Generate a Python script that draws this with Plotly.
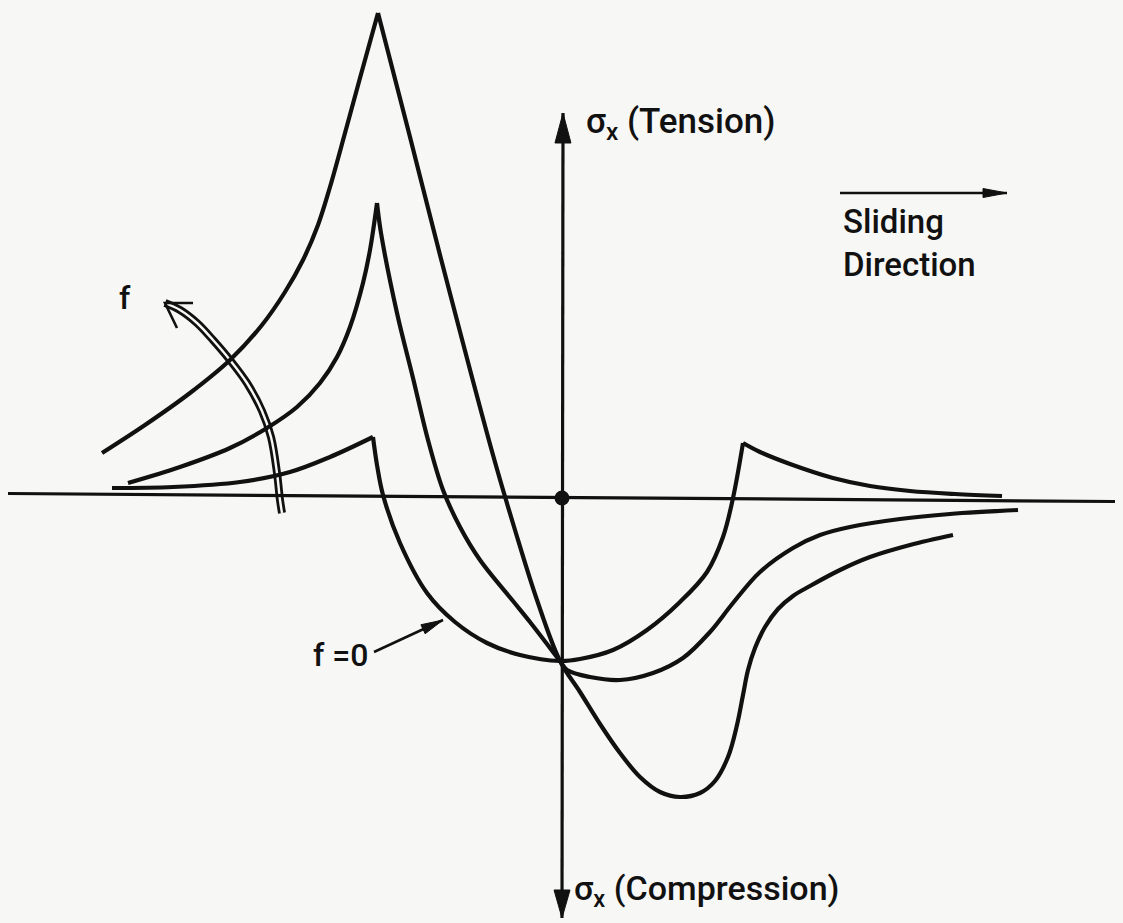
import math
import plotly.graph_objects as go

# Position along the contact (x / a) and normalised stress sigma_x.
# Each curve is split at its cusps (edges of the contact zone).

# f = 0
f0_lead_x = [-4.50, -3.89, -3.22, -2.72, -2.32, -1.89]
f0_lead_s = [0.09, 0.10, 0.15, 0.25, 0.40, 0.60]
f0_mid_x = [-1.89, -1.85, -1.79, -1.62, -1.35, -1.07, -0.75, -0.42, -0.02,
            0.18, 0.51, 0.85, 1.18, 1.45, 1.61, 1.71, 1.81]
f0_mid_s = [0.60, 0.32, 0.02, -0.46, -0.96, -1.25, -1.46, -1.58, -1.64,
            -1.62, -1.53, -1.33, -1.05, -0.75, -0.40, -0.01, 0.54]
f0_tail_x = [1.81, 1.98, 2.28, 2.71, 3.08, 3.48, 3.93, 4.40]
f0_tail_s = [0.54, 0.45, 0.33, 0.19, 0.11, 0.06, 0.03, 0.01]

# intermediate friction
f1_lead_x = [-4.34, -3.82, -3.32, -2.95, -2.65, -2.42, -2.25, -2.12, -1.99, -1.92, -1.85]
f1_lead_s = [0.14, 0.30, 0.49, 0.69, 0.90, 1.14, 1.40, 1.70, 2.14, 2.47, 2.94]
f1_trail_x = [-1.85, -1.81, -1.65, -1.49, -1.34, -1.19, -1.02, -0.82, -0.49, -0.32, -0.02,
              0.05, 0.28, 0.58, 0.91, 1.21, 1.48, 1.71, 1.98, 2.31, 2.58, 2.88,
              3.38, 3.88, 4.56]
f1_trail_s = [2.94, 2.64, 1.84, 1.19, 0.57, 0.07, -0.30, -0.63, -1.04, -1.25, -1.64,
              -1.73, -1.80, -1.83, -1.76, -1.61, -1.35, -1.06, -0.75, -0.51, -0.38,
              -0.30, -0.22, -0.17, -0.13]

# highest friction
f2_lead_x = [-4.60, -4.17, -3.72, -3.32, -3.00, -2.77, -2.59, -2.44, -2.32, -2.17,
             -2.02, -1.84]
f2_lead_s = [0.44, 0.72, 1.04, 1.37, 1.72, 2.05, 2.37, 2.72, 3.10, 3.64,
             4.19, 4.84]
f2_trail_x = [-1.84, -1.52, -1.22, -0.69, -0.47, -0.25, -0.02,
              0.18, 0.38, 0.58, 0.78, 0.98, 1.18, 1.38, 1.53, 1.66, 1.75, 1.81,
              1.86, 1.93, 2.03, 2.16, 2.31, 2.48, 2.78, 3.08, 3.48, 3.91]
f2_trail_s = [4.84, 3.60, 2.42, 0.42, -0.33, -1.03, -1.64,
              -1.95, -2.27, -2.56, -2.80, -2.95, -3.00, -2.96, -2.84, -2.60, -2.28, -1.98,
              -1.73, -1.51, -1.30, -1.12, -0.99, -0.89, -0.73, -0.60, -0.48, -0.38]

# axes
h_axis_x = [-5.54, 5.53]
h_axis_s = [0.035, -0.045]
v_axis_x = [0.01, 0.0]
v_axis_s = [3.84, -4.21]

# curved "increasing f" arrow (double line)
f_arc_x = [-3.97, -3.82, -3.65, -3.49, -3.32, -3.15, -3.00, -2.91, -2.85, -2.82, -2.80]
f_arc_s = [1.94, 1.87, 1.74, 1.57, 1.37, 1.14, 0.86, 0.60, 0.24, -0.03, -0.16]
f_barb_x = [-3.69, -3.97, -3.85]
f_barb_s = [1.94, 1.94, 1.69]

# "f = 0" pointer and sliding-direction arrow
f0_ptr_x = [-1.88, -1.19]
f0_ptr_s = [-1.55, -1.23]
slide_x = [2.78, 4.45]
slide_s = [3.04, 3.04]

INK = "#111111"
BG = "#f7f7f5"
FONT = "Roboto"

fig = go.Figure()


def line(x, y, width=4.0, color=INK, shape="spline", smoothing=1.0):
    fig.add_trace(go.Scatter(
        x=x, y=y, mode="lines", hoverinfo="skip",
        line=dict(color=color, width=width, shape=shape, smoothing=smoothing),
    ))


def head(x, y, length, width):
    """Filled arrow head at the last point of the polyline (x, y)."""
    tx, ty = x[-1], y[-1]
    dx, dy = tx - x[-2], ty - y[-2]
    n = math.hypot(dx, dy)
    ux, uy = dx / n, dy / n
    bx, by = tx - ux * length, ty - uy * length
    px, py = -uy * width / 2, ux * width / 2
    fig.add_trace(go.Scatter(
        x=[tx, bx + px, bx - px, tx], y=[ty, by + py, by - py, ty],
        mode="lines", fill="toself", fillcolor=INK, hoverinfo="skip",
        line=dict(color=INK, width=1),
    ))


# double-line arrow: thick black stroke with a thin light core
line(f_arc_x, f_arc_s, width=8, smoothing=1.0)
line(f_arc_x, f_arc_s, width=2.4, color=BG, smoothing=1.0)
line(f_barb_x, f_barb_s, width=2.6, shape="linear")

# axes
line(h_axis_x, h_axis_s, width=3.2, shape="linear")
line(v_axis_x, v_axis_s, width=3.2, shape="linear")
head([v_axis_x[1], v_axis_x[0]], [v_axis_s[1], v_axis_s[0]], 0.30, 0.16)
head(v_axis_x, v_axis_s, 0.28, 0.16)

# stress curves
for xs, ss in [(f0_lead_x, f0_lead_s), (f0_mid_x, f0_mid_s), (f0_tail_x, f0_tail_s),
               (f1_lead_x, f1_lead_s), (f1_trail_x, f1_trail_s),
               (f2_lead_x, f2_lead_s), (f2_trail_x, f2_trail_s)]:
    line(xs, ss, width=4.2)

# origin marker
fig.add_trace(go.Scatter(
    x=[0.0], y=[-0.01], mode="markers", hoverinfo="skip",
    marker=dict(color=INK, size=15),
))

# pointers
line(f0_ptr_x, f0_ptr_s, width=2.6, shape="linear")
head(f0_ptr_x, f0_ptr_s, 0.22, 0.10)
line(slide_x, slide_s, width=2.6, shape="linear")
head(slide_x, slide_s, 0.24, 0.09)

labels = [
    dict(x=0.22, y=3.74, text="σ<sub>x</sub> (Tension)", xanchor="left", size=35),
    dict(x=0.10, y=-3.93, text="σ<sub>x</sub> (Compression)", xanchor="left", size=34),
    dict(x=2.79, y=2.54, text="Sliding<br>Direction", xanchor="left", size=33),
    dict(x=-4.37, y=1.99, text="f", xanchor="center", size=32),
    dict(x=-1.92, y=-1.58, text="f =0", xanchor="right", size=32),
]
for lab in labels:
    fig.add_annotation(
        x=lab["x"], y=lab["y"], xref="x", yref="y", text=lab["text"],
        showarrow=False, xanchor=lab["xanchor"], yanchor="middle", align="left",
        font=dict(family=FONT, size=lab["size"], color=INK, weight=500),
    )

fig.update_xaxes(range=[-5.62, 5.61], visible=False)
fig.update_yaxes(range=[-4.26, 4.97], visible=False)
fig.update_layout(
    width=1123, height=923, autosize=False,
    margin=dict(l=0, r=0, t=0, b=0),
    paper_bgcolor=BG, plot_bgcolor=BG,
    showlegend=False,
)

fig.write_html("out.html")
